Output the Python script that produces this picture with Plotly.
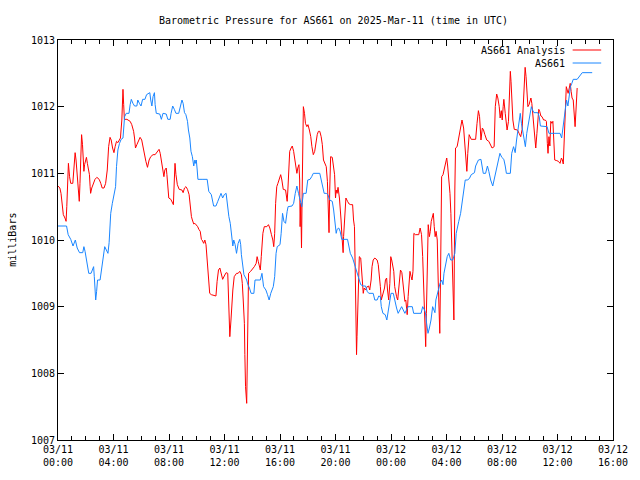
import plotly.graph_objects as go
import pandas as pd

start = pd.Timestamp("2025-03-11 00:00")

# AS661 Analysis (red) : minutes after 2025-03-11 00:00 UTC, pressure in mbar
analysis_minutes = [
    0, 8, 13, 18, 23, 30, 35, 38, 41, 45,
    50, 52, 55, 64, 66, 69, 74, 78, 81, 83,
    86, 89, 92, 95, 98, 102, 106, 109, 112, 115,
    119, 123, 127, 132, 136, 139, 141, 146, 153, 160,
    168, 178, 185, 191, 199, 206, 213, 219, 225, 230,
    236, 242, 247, 253, 259, 264, 270, 276, 278, 281,
    284, 287, 298, 305, 312, 319, 327, 331, 335, 341,
    348, 355, 362, 369, 375, 380, 387, 394, 401, 411,
    420, 428, 437, 442, 448, 454, 458, 462, 468, 471,
    476, 479, 488, 493, 499, 503, 506, 510, 516, 524,
    536, 541, 547, 553, 560, 567, 571, 577, 581, 587,
    592, 598, 604, 609, 615, 620, 623, 630, 635, 640,
    645, 652, 656, 663, 683, 688, 694, 700, 705, 712,
    719, 727, 734, 736, 741, 743, 748, 752, 756, 762,
    766, 772, 779, 786, 793, 797, 801, 806, 808, 811,
    816, 818, 821, 824, 833, 838, 844, 849, 857, 861,
    866, 871, 875, 879, 882, 886, 892, 903, 910, 916,
    923, 929, 933, 937, 941, 946, 951, 957, 963, 968,
    974, 984, 988, 991, 994, 998, 1002, 1008, 1013, 1019,
    1025, 1029, 1033, 1037, 1042, 1045, 1047, 1050, 1053, 1056,
    1059, 1061, 1066, 1070, 1076, 1081, 1087, 1093, 1098, 1104,
    1110, 1115, 1121, 1126, 1132, 1138, 1143, 1148, 1153, 1160,
    1165, 1169, 1172, 1175, 1179, 1186, 1192, 1196, 1200, 1203,
    1207, 1211, 1217, 1221, 1224, 1228, 1233, 1235, 1238, 1241,
    1245, 1252, 1259, 1266, 1274, 1278, 1282, 1285, 1288, 1291,
    1293, 1296, 1299, 1303, 1309, 1313, 1317, 1320, 1324, 1330,
    1337, 1343, 1348, 1354, 1358, 1363, 1370, 1380, 1385, 1389,
    1394, 1398, 1402, 1408, 1412, 1416, 1421, 1425, 1430, 1435,
    1439, 1443, 1447, 1452, 1456, 1460, 1464, 1469, 1473, 1477,
    1481, 1487, 1491, 1495, 1500, 1504, 1510, 1514, 1518, 1522,
    1527, 1531, 1535, 1539, 1545, 1553, 1560, 1566, 1572, 1577,
    1580, 1585, 1587, 1590, 1593, 1597, 1601, 1606, 1610, 1614,
    1618, 1623, 1627, 1631, 1635, 1640, 1644, 1648, 1651, 1654,
    1657, 1659, 1665, 1671, 1676, 1681, 1685, 1690, 1695, 1699,
    1703, 1706, 1709, 1712, 1716, 1719, 1726, 1733, 1740, 1747,
    1754, 1761, 1765, 1768, 1772, 1778, 1787, 1806, 1812, 1818,
    1823, 1826, 1829, 1835, 1840, 1846, 1854, 1863, 1871, 1877,
    1886, 1891, 1897, 1902, 1908, 1912, 1917, 1921, 1925, 1928,
    1934, 1938, 1942, 1948, 1952, 1956, 1959, 1963, 1967, 1973,
    1980, 1987, 1994, 2001, 2007, 2011, 2016, 2020, 2024, 2028,
    2032, 2037, 2041, 2045, 2049, 2054, 2058, 2062, 2066, 2071,
    2075, 2079, 2083, 2088, 2093, 2100, 2107, 2112, 2116, 2119,
    2123, 2127, 2131, 2136, 2140, 2144, 2148, 2157, 2164, 2171,
    2177, 2181, 2185, 2189, 2194, 2198, 2202, 2206, 2211, 2215,
    2219, 2223, 2228, 2232, 2236, 2240, 2245,
]
analysis_mbar = [
    1010.81, 1010.78, 1010.70, 1010.48, 1010.38, 1010.33, 1010.28, 1010.50, 1010.93, 1011.15,
    1010.95, 1010.90, 1010.85, 1010.85, 1010.95, 1011.18, 1011.31, 1011.20, 1011.05, 1010.88,
    1010.78, 1010.70, 1010.58, 1010.85, 1011.33, 1011.58, 1011.43, 1011.25, 1011.03, 1011.13,
    1011.20, 1011.24, 1011.15, 1011.08, 1010.98, 1010.80, 1010.70, 1010.78, 1010.85, 1010.91,
    1010.94, 1010.91, 1010.85, 1010.78, 1010.78, 1010.85, 1011.05, 1011.40, 1011.54, 1011.50,
    1011.38, 1011.31, 1011.40, 1011.48, 1011.46, 1011.50, 1011.53, 1011.80, 1012.10, 1012.26,
    1012.03, 1011.81, 1011.81, 1011.80, 1011.78, 1011.73, 1011.63, 1011.53, 1011.38, 1011.43,
    1011.50, 1011.54, 1011.50, 1011.35, 1011.25, 1011.18, 1011.09, 1011.20, 1011.25, 1011.28,
    1011.28, 1011.31, 1011.36, 1011.30, 1011.18, 1011.03, 1010.95, 1011.05, 1011.08, 1010.98,
    1010.80, 1010.63, 1010.61, 1010.56, 1010.53, 1010.90, 1011.15, 1010.98, 1010.83, 1010.76,
    1010.75, 1010.71, 1010.78, 1010.80, 1010.76, 1010.68, 1010.50, 1010.35, 1010.30, 1010.24,
    1010.25, 1010.23, 1010.20, 1010.16, 1010.13, 1010.01, 1010.00, 1009.95, 1010.00, 1009.93,
    1009.70, 1009.38, 1009.20, 1009.18, 1009.16, 1009.38, 1009.55, 1009.58, 1009.50, 1009.41,
    1009.46, 1009.51, 1009.50, 1009.28, 1008.90, 1008.55, 1008.80, 1009.08, 1009.25, 1009.45,
    1009.48, 1009.50, 1009.50, 1009.53, 1009.48, 1009.35, 1009.10, 1008.75, 1008.28, 1007.80,
    1007.55, 1008.05, 1008.80, 1009.50, 1009.53, 1009.55, 1009.58, 1009.60, 1009.65, 1009.75,
    1009.68, 1009.60, 1009.55, 1009.75, 1009.93, 1010.10, 1010.20, 1010.20, 1010.23, 1010.18,
    1010.08, 1010.00, 1009.90, 1010.10, 1010.55, 1010.80, 1010.85, 1010.93, 1010.98, 1010.90,
    1010.76, 1010.75, 1010.68, 1010.58, 1010.75, 1011.08, 1011.33, 1011.38, 1011.41, 1011.33,
    1011.20, 1011.05, 1011.00, 1011.08, 1011.13, 1010.90, 1010.20, 1010.55, 1009.88, 1010.75,
    1011.45, 1012.00, 1011.90, 1011.75, 1011.70, 1011.73, 1011.65, 1011.55, 1011.40, 1011.28,
    1011.33, 1011.45, 1011.58, 1011.63, 1011.63, 1011.55, 1011.43, 1011.20, 1011.15, 1011.10,
    1010.88, 1010.38, 1010.11, 1010.75, 1011.25, 1011.24, 1011.09, 1010.98, 1010.63, 1010.75,
    1010.70, 1010.79, 1010.63, 1010.50, 1010.30, 1010.05, 1009.81, 1010.05, 1010.30, 1010.50,
    1010.63, 1010.58, 1010.54, 1010.53, 1010.53, 1010.30, 1010.20, 1009.60, 1008.75, 1008.28,
    1008.55, 1008.90, 1009.50, 1009.75, 1009.73, 1009.55, 1009.35, 1009.20, 1009.28, 1009.25,
    1009.30, 1009.31, 1009.25, 1009.40, 1009.60, 1009.70, 1009.73, 1009.70, 1009.63, 1009.50,
    1009.30, 1009.10, 1009.15, 1009.20, 1009.28, 1009.40, 1009.43, 1009.25, 1009.10, 1009.35,
    1009.75, 1009.70, 1009.60, 1009.53, 1009.30, 1009.20, 1009.15, 1009.10, 1009.25, 1009.40,
    1009.55, 1009.51, 1009.35, 1009.20, 1009.08, 1009.10, 1008.88, 1009.15, 1009.35, 1009.53,
    1009.45, 1009.40, 1009.53, 1010.10, 1010.08, 1010.08, 1010.08, 1010.18, 1010.08, 1009.75,
    1009.40, 1008.90, 1008.60, 1008.40, 1008.90, 1009.60, 1010.23, 1010.05, 1010.13, 1010.28,
    1010.35, 1010.40, 1010.20, 1010.05, 1010.13, 1010.00, 1009.40, 1008.90, 1008.60, 1009.40,
    1010.30, 1010.95, 1010.98, 1011.09, 1011.16, 1011.23, 1011.11, 1010.95, 1010.70, 1010.40,
    1009.90, 1009.40, 1009.10, 1008.80, 1010.75, 1011.38, 1011.40, 1011.55, 1011.70, 1011.80,
    1011.68, 1011.40, 1011.20, 1011.03, 1011.30, 1011.58, 1011.51, 1011.51, 1011.75, 1011.94,
    1011.85, 1011.70, 1011.50, 1011.68, 1011.65, 1011.58, 1011.50, 1011.48, 1011.43, 1011.38,
    1011.40, 1012.00, 1012.19, 1012.13, 1012.00, 1011.83, 1011.94, 1011.80, 1012.00, 1012.11,
    1011.90, 1011.70, 1011.65, 1011.78, 1012.20, 1012.53, 1012.38, 1012.10, 1011.80, 1011.66,
    1011.66, 1011.65, 1011.60, 1011.55, 1011.66, 1012.00, 1012.40, 1012.59, 1012.45, 1012.10,
    1012.00, 1012.03, 1012.10, 1012.13, 1012.05, 1011.85, 1011.73, 1011.50, 1011.38, 1011.60,
    1011.90, 1011.96, 1011.93, 1011.86, 1011.85, 1011.80, 1011.80, 1011.78, 1011.45, 1011.30,
    1011.55, 1011.41, 1011.78, 1011.75, 1011.78, 1011.40, 1011.20, 1011.19, 1011.18, 1011.15,
    1011.23, 1011.20, 1011.14, 1011.50, 1011.90, 1012.30, 1012.25, 1012.20, 1012.28, 1012.35,
    1012.23, 1012.13, 1012.10, 1011.85, 1011.70, 1011.95, 1012.28,
]

# AS661 (blue) : minutes after 2025-03-11 00:00 UTC, pressure in mbar
as661_minutes = [
    0, 37, 44, 55, 65, 75, 83, 93, 107, 112,
    117, 124, 133, 143, 154, 157, 163, 167, 171, 182,
    188, 197, 202, 209, 216, 221, 228, 235, 242, 249,
    253, 259, 266, 273, 281, 284, 288, 295, 307, 312,
    317, 324, 331, 341, 345, 352, 359, 366, 376, 383,
    397, 401, 406, 411, 417, 420, 425, 440, 447, 454,
    468, 475, 485, 489, 496, 503, 510, 522, 529, 536,
    541, 547, 553, 560, 564, 570, 575, 581, 587, 592,
    595, 598, 602, 605, 623, 645, 652, 663, 673, 683,
    691, 705, 712, 719, 727, 734, 739, 745, 751, 756,
    760, 766, 772, 779, 786, 790, 793, 797, 804, 816,
    821, 828, 835, 847, 852, 875, 882, 889, 899, 906,
    913, 920, 931, 937, 943, 948, 960, 965, 971, 977,
    984, 991, 995, 1012, 1019, 1026, 1033, 1040, 1047, 1054,
    1061, 1073, 1080, 1090, 1097, 1104, 1132, 1139, 1143, 1151,
    1160, 1167, 1175, 1186, 1192, 1197, 1203, 1207, 1214, 1220,
    1227, 1252, 1257, 1264, 1274, 1281, 1288, 1295, 1302, 1309,
    1320, 1330, 1337, 1344, 1363, 1370, 1380, 1387, 1394, 1398,
    1405, 1415, 1422, 1429, 1436, 1440, 1450, 1457, 1464, 1471,
    1478, 1486, 1493, 1500, 1507, 1514, 1532, 1538, 1570, 1577,
    1585, 1589, 1594, 1600, 1606, 1613, 1620, 1627, 1630, 1634,
    1641, 1648, 1652, 1659, 1665, 1669, 1676, 1683, 1690, 1698,
    1707, 1716, 1722, 1727, 1733, 1741, 1747, 1754, 1761, 1772,
    1780, 1787, 1801, 1806, 1818, 1829, 1839, 1849, 1857, 1863,
    1871, 1880, 1888, 1897, 1905, 1911, 1919, 1928, 1934, 1939,
    1956, 1962, 1970, 1973, 1977, 1983, 1990, 1999, 2004, 2010,
    2016, 2021, 2027, 2032, 2041, 2047, 2052, 2058, 2075, 2081,
    2086, 2115, 2123, 2171, 2178, 2185, 2192, 2199, 2205, 2211,
    2216, 2222, 2228, 2245, 2256, 2267, 2310,
]
as661_mbar = [
    1010.21, 1010.21, 1010.08, 1010.01, 1009.91, 1010.00, 1009.88, 1009.81, 1009.81, 1009.90,
    1009.83, 1009.65, 1009.50, 1009.50, 1009.60, 1009.45, 1009.10, 1009.23, 1009.40, 1009.40,
    1009.55, 1009.70, 1009.90, 1009.85, 1009.80, 1009.96, 1010.40, 1010.55, 1010.70, 1010.80,
    1011.10, 1011.35, 1011.45, 1011.51, 1011.53, 1011.65, 1011.85, 1011.90, 1011.90, 1012.03,
    1012.11, 1012.05, 1012.01, 1012.01, 1012.10, 1012.05, 1012.01, 1012.11, 1012.11, 1012.18,
    1012.21, 1012.10, 1012.01, 1012.15, 1012.21, 1012.03, 1011.90, 1011.89, 1011.81, 1011.90,
    1011.89, 1011.81, 1011.81, 1011.90, 1012.01, 1011.96, 1011.90, 1011.90, 1012.00, 1012.10,
    1012.05, 1011.91, 1011.88, 1011.78, 1011.65, 1011.53, 1011.33, 1011.25, 1011.11, 1011.20,
    1011.15, 1011.20, 1011.05, 1010.91, 1010.91, 1010.91, 1010.73, 1010.68, 1010.51, 1010.51,
    1010.58, 1010.70, 1010.63, 1010.68, 1010.70, 1010.48, 1010.35, 1010.25, 1010.05, 1009.91,
    1010.00, 1009.93, 1009.80, 1009.95, 1010.01, 1009.93, 1009.78, 1009.63, 1009.48, 1009.40,
    1009.33, 1009.28, 1009.20, 1009.20, 1009.40, 1009.40, 1009.50, 1009.30, 1009.25, 1009.18,
    1009.10, 1009.20, 1009.30, 1009.45, 1009.80, 1009.90, 1009.93, 1010.10, 1010.40, 1010.28,
    1010.25, 1010.43, 1010.50, 1010.51, 1010.55, 1010.70, 1010.81, 1010.70, 1010.60, 1010.50,
    1010.70, 1010.70, 1010.90, 1010.91, 1010.95, 1011.00, 1011.00, 1010.90, 1010.80, 1010.70,
    1010.70, 1010.68, 1010.60, 1010.58, 1010.45, 1010.30, 1010.10, 1010.16, 1010.18, 1010.13,
    1010.01, 1010.01, 1009.90, 1009.80, 1009.73, 1009.65, 1009.58, 1009.50, 1009.40, 1009.33,
    1009.31, 1009.31, 1009.23, 1009.20, 1009.20, 1009.10, 1009.10, 1009.16, 1009.15, 1009.00,
    1008.90, 1008.88, 1008.80, 1008.95, 1009.10, 1009.20, 1009.20, 1009.08, 1008.98, 1008.90,
    1008.95, 1009.00, 1008.95, 1008.90, 1008.95, 1009.00, 1009.00, 1008.90, 1008.90, 1009.00,
    1008.95, 1008.91, 1008.75, 1008.60, 1008.68, 1008.80, 1009.00, 1008.95, 1008.91, 1009.10,
    1009.20, 1009.30, 1009.35, 1009.40, 1009.33, 1009.50, 1009.65, 1009.75, 1009.80, 1009.70,
    1009.70, 1009.80, 1010.10, 1010.20, 1010.28, 1010.40, 1010.55, 1010.70, 1010.90, 1010.90,
    1010.93, 1010.98, 1011.01, 1011.11, 1011.20, 1011.21, 1011.00, 1011.00, 1011.11, 1011.03,
    1010.90, 1010.81, 1010.93, 1011.05, 1011.20, 1011.30, 1011.24, 1011.21, 1011.11, 1011.00,
    1011.00, 1011.30, 1011.40, 1011.35, 1011.31, 1011.50, 1011.66, 1011.90, 1011.75, 1011.60,
    1011.50, 1011.40, 1011.60, 1011.71, 1011.90, 1012.00, 1011.95, 1011.91, 1011.91, 1011.85,
    1011.71, 1011.70, 1011.60, 1011.60, 1011.53, 1011.75, 1011.98, 1012.10, 1012.01, 1012.20,
    1012.30, 1012.35, 1012.41, 1012.41, 1012.46, 1012.51, 1012.51,
]

assert len(analysis_minutes) == len(analysis_mbar)
assert len(as661_minutes) == len(as661_mbar)

x_tick_times = ["2025-03-11 00:00", "2025-03-11 04:00", "2025-03-11 08:00",
                "2025-03-11 12:00", "2025-03-11 16:00", "2025-03-11 20:00",
                "2025-03-12 00:00", "2025-03-12 04:00", "2025-03-12 08:00",
                "2025-03-12 12:00", "2025-03-12 16:00"]
x_tick_labels = ["03/11<br>00:00", "03/11<br>04:00", "03/11<br>08:00",
                 "03/11<br>12:00", "03/11<br>16:00", "03/11<br>20:00",
                 "03/12<br>00:00", "03/12<br>04:00", "03/12<br>08:00",
                 "03/12<br>12:00", "03/12<br>16:00"]
y_ticks = [1007, 1008, 1009, 1010, 1011, 1012, 1013]

series_names = ["AS661 Analysis", "AS661"]
series_colors = ["#FF0000", "#1A86FF"]

analysis_time = start + pd.to_timedelta(analysis_minutes, unit="m")
as661_time = start + pd.to_timedelta(as661_minutes, unit="m")

FONT = "DejaVu Sans Mono, Liberation Mono, monospace"

fig = go.Figure()
fig.add_trace(go.Scatter(x=analysis_time, y=analysis_mbar, mode="lines",
                         name=series_names[0],
                         line=dict(color=series_colors[0], width=1)))
fig.add_trace(go.Scatter(x=as661_time, y=as661_mbar, mode="lines",
                         name=series_names[1],
                         line=dict(color=series_colors[1], width=1)))

L, R, T, B = 58, 18, 40, 40
W, H = 640, 480
pw, ph = W - L - R, H - T - B

def px_x(x):
    return (x - L) / pw

def px_y(y):
    return 1 - (y - T) / ph

# gnuplot-style key: text right-aligned, line sample to the right
key_rows_y = [50, 63]
for name, color, ky in zip(series_names, series_colors, key_rows_y):
    fig.add_annotation(x=px_x(575), y=px_y(ky), xref="paper", yref="paper",
                       text=name, showarrow=False, xanchor="right",
                       yanchor="middle", font=dict(family=FONT, size=10, color="black"))
    fig.add_shape(type="line", xref="paper", yref="paper",
                  x0=px_x(581), x1=px_x(610), y0=px_y(ky), y1=px_y(ky),
                  line=dict(color=color, width=1))

# y-axis label
fig.add_annotation(x=px_x(11), y=0.5, xref="paper", yref="paper",
                   text="milliBars", textangle=-90, showarrow=False,
                   xanchor="center", yanchor="middle",
                   font=dict(family=FONT, size=10, color="black"))

fig.update_layout(
    width=W, height=H,
    margin=dict(l=L, r=R, t=T, b=B),
    paper_bgcolor="white", plot_bgcolor="white",
    showlegend=False,
    font=dict(family=FONT, size=10, color="black"),
    title=dict(text="Barometric Pressure for AS661 on 2025-Mar-11 (time in UTC)",
               x=px_x(338), xref="paper", xanchor="center",
               y=1 - 20 / H, yref="container", yanchor="middle",
               font=dict(family=FONT, size=10, color="black")),
)

fig.update_xaxes(
    type="date",
    range=[x_tick_times[0], x_tick_times[-1]],
    tickmode="array", tickvals=x_tick_times, ticktext=x_tick_labels,
    ticks="inside", ticklen=6, tickcolor="black", tickwidth=1,
    showline=True, linecolor="black", linewidth=1, mirror="ticks",
    showgrid=False, zeroline=False,
    tickfont=dict(family=FONT, size=10, color="black"),
    minor=dict(tickmode="linear", tick0=x_tick_times[0], dtick=3600000,
               ticks="inside", ticklen=4, tickcolor="black", showgrid=False),
)
fig.update_yaxes(
    range=[y_ticks[0], y_ticks[-1]],
    tickmode="array", tickvals=y_ticks, ticktext=[str(v) for v in y_ticks],
    ticks="inside", ticklen=6, tickcolor="black", tickwidth=1,
    showline=True, linecolor="black", linewidth=1, mirror="ticks",
    showgrid=False, zeroline=False,
    tickfont=dict(family=FONT, size=10, color="black"),
)

fig.write_html(
    "out.html",
    config={"displayModeBar": False, "staticPlot": True},
    post_script="document.body.style.margin='0';document.body.style.padding='0';"
                "document.body.style.overflow='hidden';",
)
